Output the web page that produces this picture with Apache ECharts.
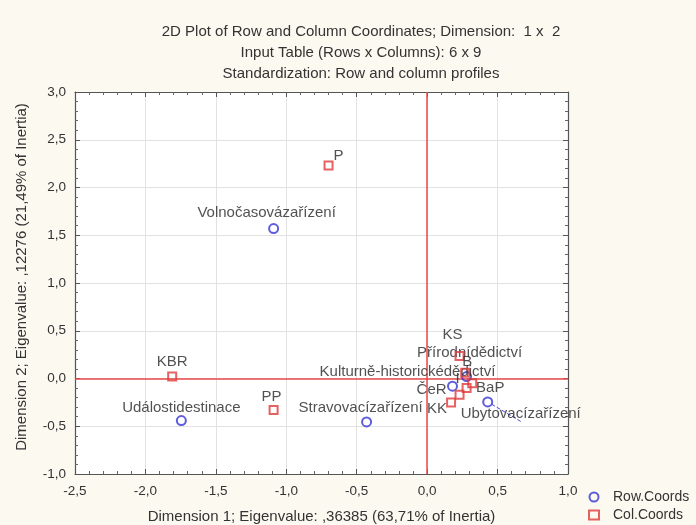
<!DOCTYPE html>
<html><head><meta charset="utf-8">
<script src="https://cdn.jsdelivr.net/npm/echarts@6/dist/echarts.min.js"></script>
<style>html,body{margin:0;padding:0;background:#fcf9f1;}#c{width:696px;height:525px;}</style>
</head><body><div id="c"></div>
<script>
var titleLines = ['2D Plot of Row and Column Coordinates; Dimension:  1 x  2','Input Table (Rows x Columns): 6 x 9','Standardization: Row and column profiles'];
var xAxisName = 'Dimension 1; Eigenvalue: ,36385 (63,71% of Inertia)';
var yAxisName = 'Dimension 2; Eigenvalue: ,12276 (21,49% of Inertia)';
var xTickLabels = ['-2,5','-2,0','-1,5','-1,0','-0,5','0,0','0,5','1,0'];
var yTickLabels = ['-1,0','-0,5','0,0','0,5','1,0','1,5','2,0','2,5','3,0'];

var rowNames = ['Volnočasovázařízení','Událostidestinace','Stravovacízařízení','Ubytovacízařízení','Kulturně-historickédědictví','Přírodnídědictví'];
var rowX = [-1.09, -1.745, -0.43, 0.43, 0.18, 0.28];
var rowY = [1.57, -0.44, -0.455, -0.245, -0.08, 0.02];

var colNames = ['P','KBR','PP','KK','KS','B','BaP','ČeR','I'];
var colX = [-0.70, -1.81, -1.09, 0.17, 0.23, 0.27, 0.32, 0.28, 0.23];
var colY = [2.23, 0.02, -0.33, -0.25, 0.235, 0.06, -0.05, -0.10, -0.17];

// label placement (style only)
var labelOffsets = {
  'Volnočasovázařízení':[-7,-16], 'Událostidestinace':[0,-13], 'Stravovacízařízení':[-6,-14],
  'Ubytovacízařízení':[33,12], 'Kulturně-historickédědictví':[-45,-14], 'Přírodnídědictví':[3,-24],
  'P':[10,-10], 'KBR':[0,-15], 'PP':[-2,-13], 'KK':[-14,6], 'KS':[-7,-21], 'B':[2,-11],
  'BaP':[18,5], 'ČeR':[-35,2], 'I':[-2,-16]
};
var leaders = {'Ubytovacízařízení':true};

function build(names, xs, ys){
  return names.map(function(n,i){
    var o = {name:n, value:[xs[i], ys[i]], label:{offset:labelOffsets[n]}};
    if(leaders[n]) o.labelLine = {show:true, lineStyle:{type:'dashed', color:'#4a4ad8', width:1}};
    return o;
  });
}
function fmt(labels, min){ return function(v){ var i = Math.round((v-min)/0.5); return labels[i] !== undefined ? labels[i] : ''; }; }

var FF = 'Liberation Sans, Arial, sans-serif';
var chart = echarts.init(document.getElementById('c'), null, {renderer:'canvas'});
var tickTxt = {color:'#333', fontFamily:FF, fontSize:13.5};
var nameTxt = {color:'#333', fontFamily:FF, fontSize:15};
var tickStyle = {show:true, inside:true, length:5, lineStyle:{color:'#555'}};
var minorStyle = {show:true, splitNumber:5, length:3, lineStyle:{color:'#666'}};
var axisLine = {show:true, onZero:false, lineStyle:{color:'#555', width:1.2}};
var lblStyle = {show:true, position:'inside', formatter:'{b}', color:'#262626', fontFamily:FF, fontSize:15};
chart.setOption({
  backgroundColor:'#fcf9f1',
  animation:false,
  title:{text:titleLines.join('\n'), left:356, top:16, textAlign:'center',
    textStyle:{fontFamily:FF, fontSize:15, fontWeight:'normal', color:'#333', lineHeight:21}},
  legend:{orient:'vertical', left:588, top:490, padding:0, itemGap:4, itemWidth:10, itemHeight:9,
    textStyle:{fontFamily:FF, fontSize:14, color:'#333', padding:[0,0,0,9]},
    data:['Row.Coords','Col.Coords']},
  grid:{left:75, right:128, top:92, bottom:51, outerBoundsMode:'none', containLabel:false,
    show:true, backgroundColor:'#ffffff', borderColor:'#555', borderWidth:0},
  xAxis:[{type:'value', min:-2.5, max:1.0, interval:0.5, position:'bottom',
      axisLine:axisLine, axisTick:tickStyle, minorTick:minorStyle,
      axisLabel:Object.assign({margin:10, formatter:fmt(xTickLabels,-2.5)}, tickTxt),
      splitLine:{show:true, lineStyle:{color:'#e2e2e2'}},
      name:xAxisName, nameLocation:'middle', nameGap:35, nameTextStyle:nameTxt},
    {type:'value', min:-2.5, max:1.0, interval:0.5, position:'top',
      axisLine:axisLine, axisTick:tickStyle, minorTick:minorStyle, axisLabel:{show:false}, splitLine:{show:false}}],
  yAxis:[{type:'value', min:-1.0, max:3.0, interval:0.5, position:'left',
      axisLine:axisLine, axisTick:tickStyle, minorTick:minorStyle,
      axisLabel:Object.assign({margin:9, formatter:fmt(yTickLabels,-1.0)}, tickTxt),
      splitLine:{show:true, lineStyle:{color:'#e2e2e2'}},
      name:yAxisName, nameLocation:'middle', nameGap:46,
      nameTextStyle:Object.assign({padding:[0,0,0,12]}, nameTxt)},
    {type:'value', min:-1.0, max:3.0, interval:0.5, position:'right',
      axisLine:axisLine, axisTick:tickStyle, minorTick:minorStyle, axisLabel:{show:false}, splitLine:{show:false}}],
  series:[
    {name:'Row.Coords', type:'scatter', symbol:'circle', symbolSize:9,
      itemStyle:{color:'rgba(255,255,255,0)', borderColor:'#3535d6', borderWidth:2},
      label:lblStyle,
      data:build(rowNames,rowX,rowY), z:3,
      markLine:{silent:true, symbol:'none', label:{show:false}, animation:false, z:2,
        lineStyle:{color:'#e84848', type:'solid', width:1.5, opacity:1},
        emphasis:{disabled:true},
        data:[{xAxis:0},{yAxis:0}]}},
    {name:'Col.Coords', type:'scatter', symbol:'rect', symbolSize:8,
      itemStyle:{color:'rgba(255,255,255,0)', borderColor:'#e03a3a', borderWidth:2},
      label:lblStyle,
      data:build(colNames,colX,colY), z:4}
  ]
});
</script></body></html>
